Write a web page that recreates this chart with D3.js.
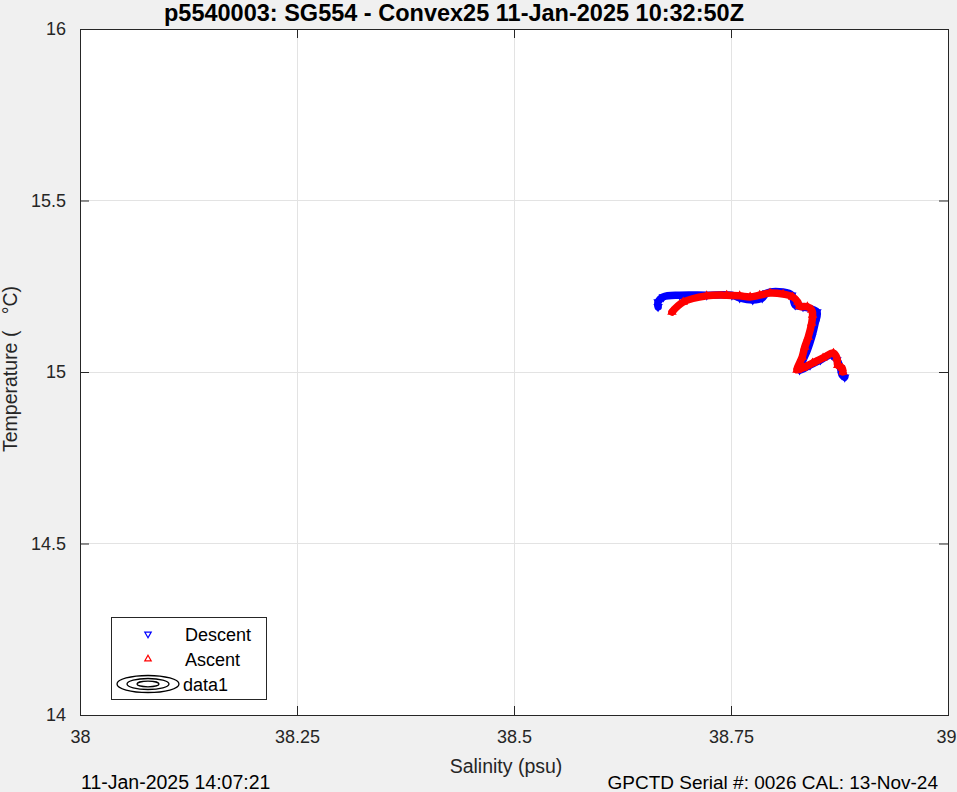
<!DOCTYPE html>
<html>
<head>
<meta charset="utf-8">
<script src="https://cdn.jsdelivr.net/npm/d3@7"></script>
<style>
  html, body { margin: 0; padding: 0; background: #f0f0f0; }
  svg { display: block; }
  text { font-family: "Liberation Sans", Arial, Helvetica, sans-serif; }
</style>
</head>
<body>
<svg id="chart" width="957" height="792"></svg>
<script>
// ---- Data ----
const titleText = "p5540003: SG554 - Convex25 11-Jan-2025 10:32:50Z";
const xTicks = [38, 38.25, 38.5, 38.75, 39];
const xTickLabels = ["38", "38.25", "38.5", "38.75", "39"];
const yTicks = [14, 14.5, 15, 15.5, 16];
const yTickLabels = ["14", "14.5", "15", "15.5", "16"];

const descentSalinity = [38.666, 38.666, 38.672, 38.691, 38.722, 38.751, 38.760, 38.775, 38.786, 38.791,
  38.810, 38.820, 38.824, 38.833, 38.849, 38.847, 38.843, 38.838, 38.832, 38.829,
  38.841, 38.853, 38.866, 38.872, 38.876, 38.878, 38.881];
const descentTemp = [15.190, 15.204, 15.219, 15.224, 15.224, 15.224, 15.216, 15.210, 15.216, 15.230,
  15.233, 15.224, 15.195, 15.190, 15.175, 15.143, 15.102, 15.064, 15.029, 15.006,
  15.020, 15.035, 15.050, 15.035, 15.012, 14.991, 14.985];

const ascentSalinity = [38.682, 38.695, 38.722, 38.745, 38.760, 38.772, 38.783, 38.795, 38.810, 38.821,
  38.827, 38.829, 38.838, 38.843, 38.844, 38.843, 38.839, 38.835, 38.832, 38.827,
  38.826, 38.833, 38.844, 38.856, 38.868, 38.872, 38.873, 38.878, 38.879];
const ascentTemp = [15.175, 15.204, 15.222, 15.224, 15.222, 15.219, 15.224, 15.230, 15.227, 15.219,
  15.204, 15.192, 15.190, 15.181, 15.166, 15.143, 15.102, 15.073, 15.044, 15.015,
  15.006, 15.012, 15.026, 15.041, 15.055, 15.041, 15.020, 15.012, 15.000];

const legendLabels = ["Descent", "Ascent", "data1"];
const leftFooter = "11-Jan-2025 14:07:21";
const rightFooter = "GPCTD Serial #: 0026 CAL: 13-Nov-24";

// ---- Layout ----
const svg = d3.select("#chart");
const W = 957, H = 792;
const plot = { left: 80, right: 948, top: 29, bottom: 715 };
const axisColor = "#262626";
const gridColor = "#e3e3e3";

const x = d3.scaleLinear().domain([38, 39]).range([plot.left, plot.right]);
const y = d3.scaleLinear().domain([14, 16]).range([plot.bottom, plot.top]);

svg.append("rect").attr("width", W).attr("height", H).attr("fill", "#f0f0f0");
svg.append("rect")
  .attr("x", plot.left).attr("y", plot.top)
  .attr("width", plot.right - plot.left).attr("height", plot.bottom - plot.top)
  .attr("fill", "#ffffff");

// grid
const grid = svg.append("g");
grid.selectAll("line.gx").data(xTicks.slice(1, -1)).join("line")
  .attr("x1", d => x(d)).attr("x2", d => x(d))
  .attr("y1", plot.top).attr("y2", plot.bottom)
  .attr("stroke", gridColor).attr("stroke-width", 1).attr("shape-rendering", "crispEdges");
grid.selectAll("line.gy").data(yTicks.slice(1, -1)).join("line")
  .attr("y1", d => y(d)).attr("y2", d => y(d))
  .attr("x1", plot.left).attr("x2", plot.right)
  .attr("stroke", gridColor).attr("stroke-width", 1).attr("shape-rendering", "crispEdges");

// data
const descent = descentSalinity.map((s, i) => [s, descentTemp[i]]);
const ascent = ascentSalinity.map((s, i) => [s, ascentTemp[i]]);
const line = d3.line().x(d => x(d[0])).y(d => y(d[1])).curve(d3.curveCatmullRom.alpha(0.5));

const dataG = svg.append("g");
function drawSeries(data, color, rot) {
  dataG.append("path").datum(data)
    .attr("d", line).attr("fill", "none")
    .attr("stroke", color).attr("stroke-width", 7.5)
    .attr("stroke-linejoin", "round").attr("stroke-linecap", "round");
  const sym = d3.symbol().type(d3.symbolTriangle).size(24);
  dataG.selectAll(null).data(data).join("path")
    .attr("d", sym)
    .attr("transform", d => `translate(${x(d[0])},${y(d[1])}) rotate(${rot})`)
    .attr("fill", "none").attr("stroke", color).attr("stroke-width", 1.2);
}
drawSeries(descent, "#0000ff", 180);
drawSeries(ascent, "#ff0000", 0);

// axes box
const box = svg.append("g").attr("shape-rendering", "crispEdges");
box.append("rect")
  .attr("x", plot.left).attr("y", plot.top)
  .attr("width", plot.right - plot.left).attr("height", plot.bottom - plot.top)
  .attr("fill", "none").attr("stroke", axisColor).attr("stroke-width", 1);

// axes with d3 (inward ticks)
const tickLen = 9;
const xAxis = d3.axisBottom(x).tickValues(xTicks).tickFormat((d, i) => xTickLabels[i])
  .tickSizeInner(-tickLen).tickSizeOuter(0).tickPadding(tickLen + 6);
const yAxis = d3.axisLeft(y).tickValues(yTicks).tickFormat((d, i) => yTickLabels[i])
  .tickSizeInner(-tickLen).tickSizeOuter(0).tickPadding(tickLen + 5);

const gx = svg.append("g").attr("transform", `translate(0,${plot.bottom})`).call(xAxis);
const gy = svg.append("g").attr("transform", `translate(${plot.left},0)`).call(yAxis);
[gx, gy].forEach(g => {
  g.select(".domain").remove();
  g.selectAll("line").attr("stroke", axisColor);
  g.selectAll("text").attr("fill", axisColor)
    .style("font-size", "18px").style("font-family", "'Liberation Sans', Arial, sans-serif");
});
// keep the last x tick label inside the window (as in the reference, it touches the right edge)
gx.selectAll(".tick text").filter(d => d === xTicks[xTicks.length - 1])
  .attr("text-anchor", "end").attr("dx", 8);

// top and right ticks
const gxt = svg.append("g").attr("transform", `translate(0,${plot.top})`)
  .call(d3.axisTop(x).tickValues(xTicks).tickFormat("").tickSizeInner(-tickLen).tickSizeOuter(0));
const gyr = svg.append("g").attr("transform", `translate(${plot.right},0)`)
  .call(d3.axisRight(y).tickValues(yTicks).tickFormat("").tickSizeInner(-tickLen).tickSizeOuter(0));
[gxt, gyr].forEach(g => { g.select(".domain").remove(); g.selectAll("line").attr("stroke", axisColor); });

// labels
svg.append("text").attr("x", 506).attr("y", 773)
  .attr("text-anchor", "middle").attr("fill", axisColor).style("font-size", "19.5px")
  .text("Salinity (psu)");
svg.append("text")
  .attr("transform", `translate(17,${369}) rotate(-90)`)
  .attr("text-anchor", "middle").attr("fill", axisColor).style("font-size", "19.5px")
  .attr("xml:space", "preserve").style("white-space", "pre")
  .text("Temperature (   °C)");

// title
svg.append("text").attr("x", 454).attr("y", 21)
  .attr("text-anchor", "middle").attr("fill", "#000").style("font-size", "23.5px")
  .style("font-weight", "bold").text(titleText);

// footers
svg.append("text").attr("x", 81).attr("y", 789).attr("fill", "#000")
  .style("font-size", "19.5px").text(leftFooter);
svg.append("text").attr("x", 938).attr("y", 789).attr("text-anchor", "end").attr("fill", "#000")
  .style("font-size", "19px").text(rightFooter);

// legend
const lg = svg.append("g");
lg.append("rect").attr("x", 111).attr("y", 617).attr("width", 155).attr("height", 82)
  .attr("fill", "#fff").attr("stroke", axisColor).attr("stroke-width", 1).attr("shape-rendering", "crispEdges");
const legendY = [634, 659, 684];
const symL = d3.symbol().type(d3.symbolTriangle).size(18);
lg.append("path").attr("d", symL).attr("transform", `translate(148,${legendY[0]}) rotate(180)`)
  .attr("fill", "none").attr("stroke", "#0000ff").attr("stroke-width", 1.2);
lg.append("path").attr("d", symL).attr("transform", `translate(148,${legendY[1]})`)
  .attr("fill", "none").attr("stroke", "#ff0000").attr("stroke-width", 1.2);
[[31, 8.5], [21, 5.5], [11, 2.8]].forEach(([rx, ry]) => {
  lg.append("ellipse").attr("cx", 148).attr("cy", legendY[2]).attr("rx", rx).attr("ry", ry)
    .attr("fill", "none").attr("stroke", "#000").attr("stroke-width", 1.3);
});
legendLabels.forEach((t, i) => {
  lg.append("text").attr("x", i === 2 ? 183 : 185).attr("y", legendY[i] + 7)
    .attr("fill", "#000").style("font-size", "18px").text(t);
});
</script>
</body>
</html>
